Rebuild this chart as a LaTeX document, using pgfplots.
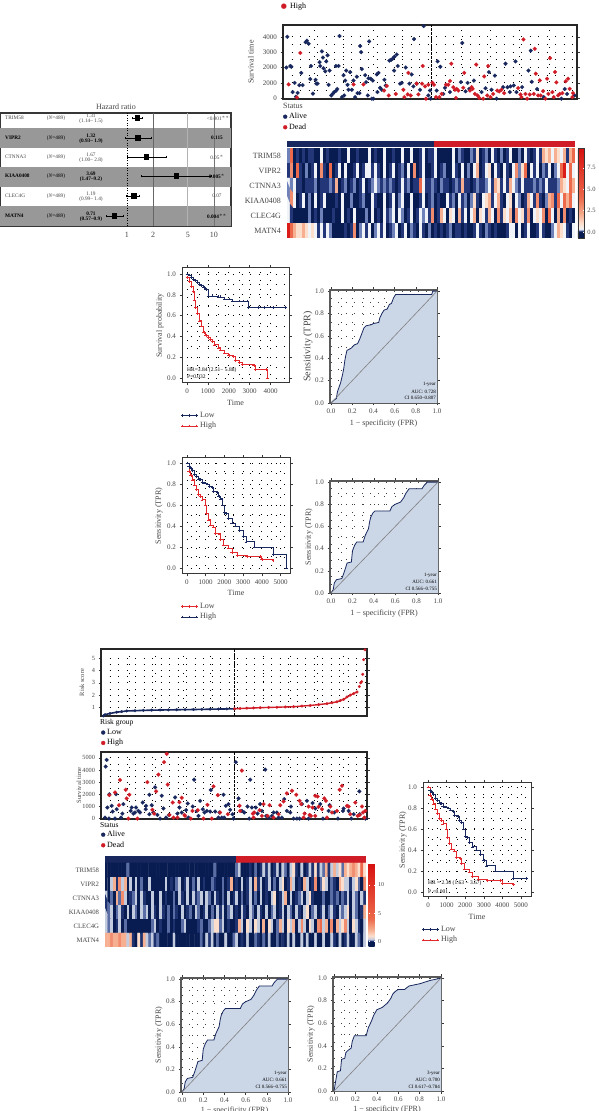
\documentclass[border=0pt]{standalone}
\usepackage{fontspec}
\setmainfont{Liberation Serif}
\newfontfamily\djv{DejaVu Sans}
\usepackage{pgfplots}
\pgfplotsset{compat=1.18}
\definecolor{navy}{RGB}{24,40,94}
\definecolor{hred}{RGB}{208,28,38}
\definecolor{kmred}{RGB}{226,40,44}
\definecolor{frame}{RGB}{55,55,55}
\definecolor{txt}{RGB}{70,70,70}
\definecolor{rocfill}{RGB}{203,214,230}
\definecolor{bandgrey}{RGB}{152,152,152}
\newcommand{\fs}[1]{\fontsize{#1}{#1}\selectfont}
\pgfplotsset{
 colormap={hmA}{rgb255(0pt)=(8,28,82) rgb255(7pt)=(8,28,82) rgb255(8pt)=(35,55,120) rgb255(9pt)=(110,130,185) rgb255(10pt)=(240,243,248) rgb255(17pt)=(252,222,205) rgb255(27pt)=(247,175,145) rgb255(47pt)=(236,105,75) rgb255(105pt)=(215,15,15)},
 colormap={hmB}{rgb255(0pt)=(8,28,82) rgb255(10pt)=(8,28,82) rgb255(11pt)=(30,50,112) rgb255(12pt)=(90,110,165) rgb255(13pt)=(195,203,222) rgb255(20pt)=(252,222,205) rgb255(30pt)=(247,175,145) rgb255(50pt)=(236,105,75) rgb255(149pt)=(215,15,15)},
 myBase/.style={scale only axis, anchor=south west, axis line style={draw=frame,line width=1pt},
   tick style={draw=frame,line width=.5pt}, tick align=outside, major tick length=2.5pt, minor tick length=0pt,
   tick label style={font=\fs{7},text=txt}, label style={font=\fs{8},text=txt},
   /pgf/number format/assume math mode=true, /pgf/number format/1000 sep={}, scaled ticks=false},
 myDots/.style={grid=both, major grid style={black,line width=.8pt,dash pattern=on .8pt off 7.7pt},
   minor grid style={black,line width=.8pt,dash pattern=on .8pt off 7.7pt}, minor tick num=1},
 myDec/.style={/pgf/number format/.cd,fixed,fixed zerofill,precision=1},
 myXl/.style={every axis x label/.style={at={(0.5,0)},anchor=center,yshift=-#1,font=\fs{8},text=txt}},
 myYl/.style={every axis y label/.style={at={(0,0.5)},anchor=center,xshift=-#1,rotate=90,font=\fs{8},text=txt}},
 myKmleg/.style={legend style={at={(0,0)},anchor=north west,yshift=-#1,xshift=-1pt,draw=none,fill=none,inner sep=0pt,row sep=-.5pt,font=\fs{8},text=txt},legend cell align=left,
   legend image code/.code={\draw[##1] plot coordinates {(0pt,0pt)(7pt,0pt)(14pt,0pt)};}},
 myDotleg/.style={legend style={at={(0,0)},anchor=north west,yshift=-#1,draw=none,fill=none,inner sep=0pt,row sep=-.5pt,font=\fs{8},text=black},legend cell align=left,
   legend image code/.code={\draw[##1,mark size=2pt] plot coordinates {(3pt,0pt)};}},
 myKm/.style={const plot,line width=.7pt,mark=+,mark size=1.4pt,mark options={solid,line width=.4pt}},
 myRoc/.style={myBase,myDots,major grid style={black!75,line width=.6pt,dash pattern=on .6pt off 7.4pt},minor grid style={black!75,line width=.6pt,dash pattern=on .6pt off 7.4pt},
   xmin=-.01,xmax=1,ymin=0,ymax=1.01,xtick={0,.2,.4,.6,.8,1},ytick={0,.2,.4,.6,.8,1},xticklabel style={myDec},yticklabel style={myDec},
   xlabel={1 − specificity (FPR)},ylabel={Sensitivity (TPR)},axis line style={draw=black!65,line width=1.2pt}},
 myScat/.style={myBase,ymajorgrids,yminorgrids,xmajorgrids,major grid style={black,line width=.8pt,dash pattern=on .8pt off 7.7pt},minor grid style={black,line width=.8pt,dash pattern=on .8pt off 7.7pt},minor y tick num=1,
   xticklabels={},x tick style={draw=none},axis line style={draw=black!85,line width=1.1pt}},
 myPts/.style={only marks,mark=*,mark size=1.95pt,mark options={draw=#1,fill=#1,line width=.2pt},color=#1},
 myHm/.style={myBase,xmin=-.5,xmax=95.5,ymin=-.5,ymax=5.5,y dir=reverse,xtick=\empty,ytick={0,1,2,3,4,5},
   yticklabels={TRIM58,VIPR2,CTNNA3,KIAA0408,CLEC4G,MATN4},y tick style={draw=none},axis line style={draw=none},enlargelimits=false},
 myCells/.style={matrix plot*,mesh/cols=96,point meta=explicit},
 myBar/.style={myBase,hide axis,xmin=0,xmax=2,ymin=0,ymax=1},
}
\newcommand{\T}[4][]{\node[inner sep=0pt,text=txt,#1] at ({#2},{1111-(#3)}) {#4};}
\newcommand{\frow}[6]{%
 \T[anchor=west,font=\fs{5.3},#6]{5}{#1}{#2}
 \T[font=\fs{5.3},#6]{56}{#1}{(\textit{N}=489)}
 \T[font=\fs{5.3},#6]{91}{#1-2.5}{#3}
 \T[font=\fs{5.3},#6]{91}{#1+3.5}{#4}
 \T[font=\fs{5.3},#6]{217}{#1}{#5}}
\begin{document}
\begin{tikzpicture}[x=1pt,y=1pt]
\path[use as bounding box,fill=white] (0,0) rectangle (598,1111);
% ---------- top legend, cut by the page
\T[anchor=west,font=\fs{8},text=black]{290}{-2}{Low}
\T[anchor=west,font=\fs{8},text=black]{290}{7}{High}
\T[text=hred,font=\djv\fs{7}]{284}{7}{●}
% ---------- forest
\begin{axis}[myBase,at={(0pt,885pt)},width=231pt,height=113pt,xmode=log,xmin=.0347,xmax=15.7,ymin=113,ymax=226,y dir=reverse,
  ytick=\empty,xtick={1,2,5,10},xticklabels={1,2,5,10},tick style={draw=none},tick label style={font=\fs{8},text=txt},axis line style={draw=frame,line width=1.1pt}]
\addplot[draw=none,fill=bandgrey] coordinates {(.0347,128)(15.7,128)(15.7,148)(.0347,148)} -- cycle;
\addplot[draw=none,fill=bandgrey] coordinates {(.0347,167)(15.7,167)(15.7,187)(.0347,187)} -- cycle;
\addplot[draw=none,fill=bandgrey] coordinates {(.0347,206)(15.7,206)(15.7,226)(.0347,226)} -- cycle;
\addplot[black!60,line width=.9pt] coordinates {(2,113)(2,226)};
\addplot[black!30,line width=1.4pt] coordinates {(5,113)(5,226)};
\addplot[black!55,line width=.9pt] coordinates {(10,113)(10,226)};
\addplot[black,line width=.8pt,dash pattern=on 1pt off 1.5pt] coordinates {(1,113)(1,226)};
\addplot[only marks,mark=square*,mark size=2.3pt,black,error bars/.cd,x dir=both,x explicit,error bar style={line width=.6pt,black},error mark options={black,rotate=90,mark size=1.3pt}]
 coordinates {(1.31,118) += (0.19,0) -= (0.17,0) (1.32,138) += (0.58,0) -= (0.37,0) (1.67,157) += (1.13,0) -= (0.67,0) (3.69,176) += (5.51,0) -= (2.22,0) (1.19,196) += (0.21,0) -= (0.2,0) (0.71,216) += (0.19,0) -= (0.14,0)};
\end{axis}
\T[font=\fs{8}]{116}{107}{Hazard ratio}
\frow{118}{TRIM58}{1.31}{(1.14– 1.5)}{\makebox[0pt]{\kern6pt\textless0.001$^{***}$}}{text=txt}
\frow{138}{\textbf{VIPR2}}{\textbf{1.32}}{\textbf{(0.93– 1.9)}}{\textbf{0.115}}{text=black}
\frow{157}{CTNNA3}{1.67}{(1.00– 2.8)}{0.05$^{*}$}{text=txt}
\frow{176}{\textbf{KIAA0408}}{\textbf{3.69}}{\textbf{(1.47–9.2)}}{\textbf{0.005}$^{*}$}{text=black}
\frow{196}{CLEC4G}{1.19}{(0.99– 1.4)}{0.07}{text=txt}
\frow{216}{\textbf{MATN4}}{\textbf{0.71}}{\textbf{(0.57–0.9)}}{\textbf{0.004}$^{**}$}{text=black}
% ---------- top survival scatter
\begin{axis}[myScat,at={(283pt,1012pt)},width=294pt,height=74pt,xmin=128,xmax=1012,ymin=-50,ymax=4770,
  xtick={222,310,400,486,575,665,752,840,930},ytick={0,1000,2000,3000,4000},yticklabels={0,2000,2000,3000,4000},
  myYl=32pt,ylabel={Survival time},myDotleg=12pt]
\addplot[myPts=navy] coordinates {(141,4000)(138,2000)(150,2100)(153,2050)(157,400)(163,1000)(167,100)(172,350)(177,850)(187,850)(183,1650)(196,3650)(200,3750)(205,3550)(210,1250)(212,2100)(218,300)(226,1200)(228,950)(232,950)(238,2350)(240,2100)(245,3050)(248,2650)(250,1950)(258,2400)(262,2800)(255,1750)(268,1800)(265,870)(278,300)(273,180)(282,400)(288,500)(291,600)(287,2100)(295,2100)(298,4050)(305,70)(312,180)(310,1500)(318,1800)(315,1150)(322,870)(330,1700)(325,550)(335,550)(340,1150)(345,70)(350,1400)(352,330)(358,330)(360,3400)(363,3000)(365,1900)(375,1500)(378,1050)(385,1300)(387,3700)(392,1270)(398,1150)(383,180)(395,-30)(400,-30)(410,1550)(415,1650)(412,400)(420,680)(425,550)(433,1200)(437,830)(448,2450)(453,2500)(458,2580)(463,2700)(470,2850)(473,2100)(462,1800)(480,950)(485,1000)(497,2000)(515,1550)(522,3850)(508,950)(520,770)(530,950)(540,550)(551,4700)(570,500)(565,180)(572,-30)(593,2400)(601,2050)(590,500)(610,280)(615,680)(630,400)(663,1050)(667,3600)(683,1000)(677,450)(702,1150)(688,610)(725,400)(737,650)(747,1700)(755,550)(765,1470)(770,-30)(797,2250)(790,720)(803,720)(812,770)(822,830)(827,2400)(810,400)(830,400)(847,720)(866,1800)(873,3100)(876,1070)(892,600)(912,70)(965,-30)(975,600)(982,280)(1005,180)};
\addlegendentry{Alive}
\addplot[myPts=hred] coordinates {(145,900)(180,2950)(170,50)(340,900)(370,900)(432,500)(440,800)(446,180)(467,280)(490,550)(493,70)(503,250)(505,1650)(512,180)(530,950)(535,250)(546,950)(548,2100)(555,770)(558,-30)(565,880)(577,1010)(582,880)(588,70)(598,70)(605,280)(618,880)(625,880)(630,1120)(634,2250)(640,720)(645,550)(650,610)(655,500)(648,20)(670,680)(673,1650)(690,500)(695,720)(698,610)(705,280)(709,2190)(713,180)(718,20)(730,-30)(733,1420)(742,180)(745,2100)(752,70)(760,280)(772,500)(778,440)(785,550)(793,330)(835,660)(842,240)(845,70)(851,3830)(857,280)(862,-30)(870,240)(882,280)(885,3220)(888,1600)(895,180)(900,1160)(903,180)(910,460)(917,-30)(922,1270)(926,280)(931,2610)(938,400)(942,70)(946,1710)(950,1030)(955,180)(960,280)(968,330)(978,1100)(985,1270)(990,610)(998,70)(1000,330)};
\addlegendentry{Dead}
\addplot[black,line width=.8pt,dash pattern=on 2.5pt off 1.5pt,forget plot] coordinates {(575,-50)(575,4770)};
\end{axis}
\T[anchor=west,font=\fs{8}]{283}{106}{Status}
% ---------- top heatmap
\begin{axis}[myBar,at={(287pt,964pt)},width=288pt,height=6pt]
\addplot[draw=none,fill=navy] coordinates {(0,0)(1.02,0)(1.02,1)(0,1)} -- cycle;
\addplot[draw=none,fill=hred] coordinates {(1.02,0)(2,0)(2,1)(1.02,1)} -- cycle;
\end{axis}
\begin{axis}[myHm,at={(287pt,873pt)},width=288pt,height=90pt,tick label style={font=\fs{8},text=txt},colormap name=hmA,point meta min=-.7,point meta max=9.8,colorbar,
 colorbar style={at={(1.01,0)},anchor=south west,width=6pt,ytick={0,2.5,5,7.5},tick label style={font=\fs{6.5},text=txt,/pgf/number format/assume math mode=true,myDec},tick style={draw=white,line width=.3pt},major tick length=1pt,axis line style={draw=frame,line width=.6pt}}]
\addplot[myCells] table[header=false,row sep=crcr,x expr={mod(\coordindex,96)},y expr={floor(\coordindex/96)},meta index=0] {
.2\\4\\0\\.1\\0\\.1\\0\\.1\\.1\\0\\0\\.3\\
0\\.1\\0\\0\\0\\.1\\0\\0\\.3\\0\\0\\.1\\
0\\0\\0\\.3\\0\\.1\\0\\0\\.3\\0\\0\\.1\\
0\\0\\.3\\0\\0\\.3\\0\\0\\.1\\.3\\0\\.1\\
.1\\.3\\0\\0\\0\\0\\0\\.3\\0\\.2\\.1\\0\\
0\\.2\\.1\\1\\0\\.1\\.2\\0\\.3\\.1\\0\\.2\\
0\\.1\\.3\\0\\0\\.2\\0\\.3\\.1\\0\\.1\\.3\\
.1\\2\\1\\2\\.3\\2\\1\\.3\\2\\.1\\2\\4\\
.1\\3\\0\\4\\.1\\0\\.2\\0\\.1\\.3\\0\\3\\
.1\\0\\4\\0\\.1\\.3\\0\\.3\\0\\0\\.1\\.3\\
0\\.1\\.3\\.3\\.1\\.3\\.1\\0\\.3\\0\\.1\\.3\\
0\\.1\\.2\\0\\.3\\0\\3\\0\\.1\\.3\\0\\0\\
.1\\.3\\0\\.1\\.2\\0\\0\\.3\\.1\\0\\.3\\0\\
.2\\0\\.3\\2\\0\\.1\\.3\\1\\0\\.3\\.1\\0\\
.3\\.1\\0\\.3\\3\\.2\\1\\4\\0\\.3\\.1\\.3\\
0\\.2\\.1\\.3\\0\\.2\\.3\\4\\9\\.3\\4\\.3\\
.3\\.2\\.3\\.1\\.1\\0\\.1\\.1\\.1\\.2\\0\\.1\\
.1\\.1\\.2\\.1\\2\\0\\.1\\.2\\0\\.1\\.2\\0\\
.1\\.3\\0\\.1\\.2\\.3\\.2\\.1\\.2\\.1\\.2\\.1\\
0\\.1\\.3\\.1\\.2\\0\\.1\\.1\\4\\.3\\.1\\.1\\
.2\\.1\\0\\.2\\.1\\.1\\0\\.1\\.2\\.1\\2\\.1\\
.1\\0\\.1\\.2\\.1\\.1\\.2\\.3\\.1\\2\\1\\.1\\
.3\\.1\\2\\.3\\.2\\.1\\.3\\.1\\.1\\.1\\.2\\.1\\
.2\\.1\\.3\\.1\\.1\\.1\\.2\\2\\1\\.3\\4\\2\\
.2\\3\\.3\\0\\.1\\.3\\0\\.2\\0\\.3\\0\\.1\\
.3\\0\\0\\0\\.1\\0\\.3\\0\\0\\.2\\0\\0\\
.1\\.2\\0\\0\\.3\\.1\\0\\0\\.3\\0\\.1\\.3\\
0\\.2\\.3\\0\\0\\.3\\0\\0\\.1\\.3\\0\\.1\\
.2\\0\\.1\\0\\0\\.3\\.1\\.2\\0\\.3\\.1\\.2\\
0\\.2\\1\\.1\\0\\.3\\1\\2\\.1\\.3\\2\\.1\\
0\\.3\\1\\0\\.3\\.2\\0\\.1\\2\\.3\\.1\\3\\
.1\\0\\.2\\2\\3\\.1\\4\\.3\\4\\2\\4\\.3\\
.3\\.1\\0\\0\\0\\0\\0\\.2\\0\\.1\\0\\.2\\
0\\0\\0\\.1\\0\\0\\.3\\0\\.1\\0\\.3\\0\\
0\\0\\.2\\0\\.3\\0\\.1\\0\\.3\\.1\\.2\\.3\\
0\\.3\\.2\\0\\.1\\.3\\0\\.1\\.3\\.2\\.3\\.1\\
3\\0\\.1\\2\\.3\\0\\1\\.3\\0\\2\\.1\\.3\\
0\\.3\\2\\0\\1\\.3\\.1\\2\\.3\\0\\3\\.1\\
1\\.3\\2\\0\\3\\.3\\1\\.1\\3\\0\\.3\\1\\
.3\\3\\0\\4\\.3\\0\\2\\0\\3\\0\\.1\\0\\
9\\4\\2\\1\\1\\2\\1\\.3\\1\\.3\\.1\\.3\\
.1\\.3\\.2\\0\\0\\0\\0\\.1\\0\\.1\\3\\0\\
.2\\.3\\.1\\.3\\0\\.2\\.3\\.1\\.3\\0\\.1\\.2\\
.3\\0\\.1\\.3\\0\\.2\\.1\\0\\.3\\.1\\0\\.2\\
0\\.1\\0\\.1\\0\\.1\\.2\\0\\.1\\.1\\0\\.1\\
0\\0\\.1\\.3\\.1\\0\\.2\\.1\\0\\.1\\0\\0\\
0\\.1\\.3\\.3\\0\\.3\\0\\.1\\.3\\0\\0\\.1\\
.3\\.1\\0\\0\\.2\\.3\\2\\1\\.3\\.1\\0\\.3\\
};
\end{axis}
% ---------- KM 1
\begin{axis}[myBase,myDots,at={(182pt,728pt)},width=107pt,height=115pt,xmin=-240,xmax=4880,ymin=-.048,ymax=1.058,xtick={0,1000,2000,3000,4000},ytick={0,.2,.4,.6,.8,1},yticklabel style={myDec},
 xlabel={Time},ylabel={Survival probability},myXl=20pt,myYl=22pt,myKmleg=27pt]
\addplot[myKm,navy] coordinates {(0,1)(100,.99)(200,.97)(300,.95)(400,.94)(500,.92)(600,.90)(700,.89)(800,.87)(900,.85)(1000,.79)(1200,.79)(1500,.78)(1600,.78)(1800,.76)(2000,.76)(2150,.74)(2500,.74)(2700,.74)(2900,.74)(2950,.68)(3400,.68)(3700,.68)(4100,.68)(4700,.68)};
\addlegendentry{Low}
\addplot[myKm,kmred] coordinates {(0,.97)(100,.93)(200,.88)(300,.83)(350,.75)(400,.68)(500,.62)(600,.55)(700,.50)(800,.44)(900,.41)(1000,.39)(1100,.37)(1200,.35)(1300,.32)(1500,.29)(1600,.27)(1800,.24)(2000,.22)(2200,.21)(2300,.17)(2500,.15)(2650,.13)(3200,.12)(3250,.08)(3800,.08)(3850,0)};
\addlegendentry{High}
\end{axis}
\T[anchor=west,font=\fs{5.5},text=black]{187}{370}{HR=3.84 (2.51− 5.88)}
\T[anchor=west,font=\fs{5.5},text=black]{187}{377}{P=0.032}
% ---------- ROC 1
\begin{axis}[myRoc,at={(330pt,708pt)},width=107pt,height=113pt,myXl=21pt,myYl=22pt,ylabel style={font=\fs{10}}]
\addplot[draw=none,fill=rocfill] coordinates {(0,0)(.02,.02)(.05,.04)(.06,.1)(.09,.18)(.11,.26)(.12,.31)(.13,.38)(.14,.43)(.15,.47)(.19,.49)(.22,.52)(.25,.53)(.27,.57)(.29,.62)(.31,.67)(.33,.69)(.38,.70)(.4,.71)(.45,.72)(.46,.76)(.48,.80)(.5,.83)(.53,.84)(.55,.88)(.57,.89)(.59,.94)(.61,.97)(.95,.97)(.96,1)(1,1)(1,0)} -- cycle;
\addplot[navy,line width=.8pt] coordinates {(0,0)(.02,.02)(.05,.04)(.06,.1)(.09,.18)(.11,.26)(.12,.31)(.13,.38)(.14,.43)(.15,.47)(.19,.49)(.22,.52)(.25,.53)(.27,.57)(.29,.62)(.31,.67)(.33,.69)(.38,.70)(.4,.71)(.45,.72)(.46,.76)(.48,.80)(.5,.83)(.53,.84)(.55,.88)(.57,.89)(.59,.94)(.61,.97)(.95,.97)(.96,1)(1,1)};
\addplot[gray,line width=.6pt] coordinates {(0,0)(1,1)};
\end{axis}
\T[anchor=east,font=\fs{5},text=black]{436}{384}{1-year}
\T[anchor=east,font=\fs{5},text=black]{436}{392}{AUC: 0.728}
\T[anchor=east,font=\fs{5},text=black]{436}{398}{CI 0.650–0.807}
% ---------- KM 2
\begin{axis}[myBase,myDots,at={(182pt,537pt)},width=108pt,height=116pt,xmin=-267,xmax=5508,ymin=-.057,ymax=1.048,xtick={0,1000,2000,3000,4000,5000},ytick={0,.2,.4,.6,.8,1},yticklabel style={myDec},
 xlabel={Time},ylabel={Sensitivity (TPR)},myXl=19pt,myYl=23pt,myKmleg=27pt]
\addplot[myKm,kmred] coordinates {(0,1.0)(100,.92)(200,.88)(300,.84)(400,.79)(500,.75)(600,.70)(700,.68)(800,.65)(1000,.60)(1050,.52)(1150,.46)(1250,.41)(1400,.39)(1500,.33)(1750,.32)(1800,.27)(1950,.22)(2200,.19)(2400,.15)(2700,.12)(3200,.11)(3900,.11)(4000,.08)(4600,.07)};
\addlegendentry{Low}
\addplot[myKm,navy] coordinates {(0,1.0)(100,.97)(200,.95)(300,.93)(400,.89)(500,.87)(600,.85)(700,.84)(800,.82)(900,.81)(1000,.81)(1100,.80)(1200,.78)(1350,.77)(1400,.73)(1600,.72)(1700,.68)(1800,.66)(1900,.60)(2000,.53)(2100,.52)(2200,.47)(2400,.43)(2600,.40)(2800,.36)(3000,.30)(3150,.25)(3600,.20)(4600,.13)(5300,0)};
\addlegendentry{High}
\end{axis}
% ---------- ROC 2
\begin{axis}[myRoc,at={(330pt,518pt)},width=108pt,height=112pt,myXl=21pt,myYl=21pt]
\addplot[draw=none,fill=rocfill] coordinates {(0,0)(.02,.03)(.03,.09)(.05,.12)(.1,.13)(.12,.18)(.15,.27)(.19,.28)(.2,.38)(.22,.43)(.24,.46)(.3,.46)(.32,.52)(.35,.58)(.36,.64)(.37,.68)(.39,.72)(.41,.74)(.55,.74)(.57,.78)(.6,.8)(.65,.82)(.68,.86)(.7,.9)(.73,.94)(.85,.94)(.87,.97)(.9,1)(1,1)(1,0)} -- cycle;
\addplot[navy,line width=.8pt] coordinates {(0,0)(.02,.03)(.03,.09)(.05,.12)(.1,.13)(.12,.18)(.15,.27)(.19,.28)(.2,.38)(.22,.43)(.24,.46)(.3,.46)(.32,.52)(.35,.58)(.36,.64)(.37,.68)(.39,.72)(.41,.74)(.55,.74)(.57,.78)(.6,.8)(.65,.82)(.68,.86)(.7,.9)(.73,.94)(.85,.94)(.87,.97)(.9,1)(1,1)};
\addplot[gray,line width=.6pt] coordinates {(0,0)(1,1)};
\end{axis}
\T[anchor=east,font=\fs{5},text=black]{437}{575}{1-year}
\T[anchor=east,font=\fs{5},text=black]{437}{582}{AUC: 0.661}
\T[anchor=east,font=\fs{5},text=black]{437}{589}{CI 0.566–0.755}
% ---------- risk score
\begin{axis}[myScat,at={(101pt,395pt)},width=266pt,height=67pt,xmin=123,xmax=920,ymin=.29,ymax=5.77,
  xtick={207,285,370,450,523,610,690,770,850},ytick={1,2,3,4,5},tick label style={font=\fs{6.3},text=txt},myYl=19pt,ylabel style={font=\fs{6.5}},ylabel={Risk score},myDotleg=11pt]
\addplot[myPts=navy,mark size=1.4pt] coordinates {(130,.3)(135,.4)(150,.5)(170,.6)(185,.65)(200,.7)(225,.72)(250,.75)(275,.77)(300,.78)(325,.79)(350,.80)(375,.81)(400,.82)(425,.83)(450,.85)(475,.86)(500,.87)(523,.88)};
\addlegendentry{Low}
\addplot[navy,line width=1.6pt,forget plot] coordinates {(130,.3)(135,.4)(150,.5)(170,.6)(200,.7)(250,.75)(300,.78)(400,.82)(523,.88)};
\addplot[myPts=hred,mark size=1.4pt] coordinates {(523,.88)(540,.91)(560,.93)(580,.95)(600,.97)(625,.99)(650,1.0)(675,1.03)(700,1.05)(725,1.1)(750,1.15)(775,1.22)(800,1.3)(815,1.37)(830,1.45)(840,1.55)(850,1.65)(860,1.85)(870,2.0)(880,2.12)(890,2.25)(897,2.7)(901,3)(904,3.1)(907,3.7)(910,4.9)(914,5.7)};
\addlegendentry{High}
\addplot[hred,line width=1.4pt,forget plot] coordinates {(523,.88)(600,.97)(700,1.05)(750,1.15)(800,1.3)(830,1.45)(850,1.65)(870,2.0)(890,2.25)};
\addplot[black,line width=.8pt,dash pattern=on 2.5pt off 1.5pt,forget plot] coordinates {(523,.29)(523,5.77)};
\end{axis}
\T[anchor=west,font=\fs{7.5},text=black]{100}{723}{Risk group}
% ---------- bottom survival scatter
\begin{axis}[myScat,at={(101pt,292pt)},width=266pt,height=67pt,xmin=123,xmax=920,ymin=-35,ymax=5480,
  xtick={207,285,370,450,523,610,690,770,850},ytick={0,1000,2000,3000,4000,5000},tick label style={font=\fs{6.3},text=txt},myYl=22pt,ylabel style={font=\fs{6.5}},ylabel={Survival time},myDotleg=10pt]
\addplot[myPts=navy] coordinates {(137,4280)(140,4830)(148,2000)(168,2000)(142,910)(155,1050)(158,580)(170,770)(190,1190)(187,410)(183,80)(135,80)(147,0)(165,0)(215,910)(212,630)(220,410)(225,500)(228,910)(235,630)(240,500)(248,1320)(258,1050)(268,1960)(275,1100)(257,770)(268,360)(280,500)(285,2570)(292,300)(300,0)(310,830)(305,1880)(318,80)(327,300)(345,1740)(352,410)(358,910)(365,500)(378,690)(383,1240)(398,990)(402,3200)(385,80)(410,630)(415,220)(420,1460)(428,770)(433,500)(440,630)(450,580)(452,2350)(465,580)(475,80)(478,500)(485,80)(490,1960)(492,80)(497,1050)(505,1190)(510,720)(517,360)(520,0)(527,4640)(535,1660)(545,630)(552,500)(562,990)(567,0)(570,3200)(575,910)(587,910)(592,410)(600,1190)(605,630)(615,4030)(618,220)(625,80)(635,220)(640,500)(650,500)(655,80)(665,80)(672,1600)(680,630)(690,500)(692,990)(700,0)(710,0)(718,0)(725,1190)(740,1460)(745,0)(757,1280)(765,830)(780,1190)(788,0)(805,630)(808,1100)(822,500)(833,0)(848,630)(850,830)(865,630)(873,0)(880,360)(897,2240)(898,360)(915,0)};
\addlegendentry{Alive}
\addplot[myPts=hred] coordinates {(148,1930)(180,3170)(165,2150)(177,1100)(197,2370)(200,1660)(208,1960)(205,0)(232,0)(262,3000)(277,720)(282,410)(288,2240)(295,3620)(312,4640)(320,5330)(323,2800)(328,300)(338,1320)(340,80)(352,80)(358,1350)(365,1710)(373,300)(375,220)(392,0)(397,630)(413,690)(430,0)(442,1130)(455,0)(460,2650)(473,1930)(480,500)(503,360)(538,1050)(545,3950)(540,630)(578,410)(582,500)(580,80)(598,690)(605,220)(610,1190)(622,220)(628,1100)(640,80)(655,360)(660,1100)(670,1410)(680,2070)(695,2290)(708,1960)(718,1460)(723,1190)(730,80)(733,410)(745,990)(748,300)(752,220)(757,910)(765,220)(765,1880)(772,1820)(775,970)(785,770)(792,1660)(797,1460)(800,80)(810,990)(815,500)(830,630)(838,2370)(845,2700)(860,1050)(865,990)(870,360)(885,1320)(892,220)(898,300)(905,990)(908,500)(915,630)(912,80)};
\addlegendentry{Dead}
\addplot[black,line width=.8pt,dash pattern=on 2.5pt off 1.5pt,forget plot] coordinates {(523,-35)(523,5480)};
\end{axis}
\T[anchor=west,font=\fs{7.5},text=black]{100}{825}{Status}
% ---------- bottom heatmap
\begin{axis}[myBar,at={(105pt,248pt)},width=261pt,height=7pt]
\addplot[draw=none,fill=navy] coordinates {(0,0)(1,0)(1,1)(0,1)} -- cycle;
\addplot[draw=none,fill=hred] coordinates {(1,0)(2,0)(2,1)(1,1)} -- cycle;
\end{axis}
\begin{axis}[myHm,at={(105pt,164pt)},width=261pt,height=84pt,tick label style={font=\fs{6.7},text=txt},colormap name=hmB,point meta min=-1,point meta max=13.9,colorbar,
 colorbar style={at={(1.01,0)},anchor=south west,width=6pt,ytick={0,5,10},tick label style={font=\fs{6},text=txt,/pgf/number format/assume math mode=true},tick style={draw=white,line width=.3pt},major tick length=1pt,axis line style={draw=none}}]
\addplot[myCells] table[header=false,row sep=crcr,x expr={mod(\coordindex,96)},y expr={floor(\coordindex/96)},meta index=0] {
0\\0\\0\\0\\0\\0\\0\\0\\.2\\0\\0\\0\\
0\\0\\0\\0\\0\\0\\0\\0\\0\\0\\0\\0\\
0\\0\\0\\0\\0\\0\\0\\0\\0\\0\\0\\0\\
0\\0\\0\\0\\.2\\0\\0\\0\\0\\0\\0\\0\\
.2\\.3\\0\\0\\0\\.1\\0\\.2\\0\\.1\\.3\\.1\\
.3\\0\\.1\\.3\\0\\.3\\.2\\0\\.3\\1\\.1\\0\\
.3\\0\\.1\\.3\\.1\\1\\.1\\.3\\.2\\2\\.1\\.3\\
2\\.3\\1\\.2\\2\\1\\2\\3\\2\\1\\4\\1\\
0\\0\\.3\\2\\.1\\3\\.3\\2\\0\\.3\\0\\.3\\
0\\.2\\0\\0\\.3\\0\\0\\0\\0\\0\\.3\\0\\
.1\\0\\.2\\.3\\0\\.1\\.3\\0\\.2\\0\\.3\\0\\
.1\\0\\0\\.2\\.1\\0\\0\\.2\\0\\.1\\2\\0\\
.1\\0\\.3\\0\\.1\\.3\\0\\2\\.1\\.3\\0\\.1\\
.3\\0\\.2\\0\\.3\\1\\0\\.1\\2\\.3\\0\\.1\\
0\\2\\.3\\0\\.1\\3\\0\\.2\\1\\.3\\0\\.2\\
.1\\0\\2\\1\\.3\\.3\\.1\\.3\\1\\.2\\0\\3\\
.3\\0\\.2\\0\\2\\.2\\3\\.3\\0\\.1\\.2\\.3\\
0\\.3\\.1\\0\\0\\.3\\0\\0\\.3\\0\\.1\\0\\
0\\.2\\0\\.3\\.1\\0\\.3\\0\\.3\\.1\\.2\\.3\\
0\\.3\\.2\\0\\.3\\.1\\0\\.2\\0\\.3\\0\\.1\\
.3\\0\\.2\\0\\.1\\.3\\0\\.2\\0\\.3\\0\\.1\\
0\\.3\\1\\0\\.1\\.3\\2\\0\\.3\\0\\.1\\.2\\
.3\\0\\.3\\1\\.1\\0\\0\\0\\.2\\0\\0\\.2\\
.1\\.2\\0\\.2\\.1\\.3\\0\\.3\\.2\\0\\.3\\.1\\
.1\\.2\\.3\\0\\.2\\.3\\.1\\0\\.3\\0\\.3\\.2\\
0\\.3\\.2\\.3\\0\\.3\\.1\\0\\.3\\.1\\0\\.2\\
0\\.2\\.1\\0\\.3\\0\\.1\\.2\\0\\.3\\.2\\0\\
.1\\.3\\0\\.2\\0\\.3\\.1\\.3\\0\\.2\\.3\\0\\
.1\\0\\.3\\.1\\0\\.3\\.2\\0\\.3\\.1\\0\\.3\\
0\\.2\\.3\\0\\.1\\.3\\0\\.3\\.2\\0\\.3\\.1\\
0\\.3\\1\\0\\.2\\.3\\0\\.1\\.3\\0\\.2\\.3\\
.1\\0\\.3\\.2\\.3\\1\\0\\.3\\.2\\0\\.1\\2\\
.3\\.2\\.3\\0\\.1\\.3\\0\\.2\\0\\0\\0\\0\\
0\\0\\0\\0\\0\\.2\\.3\\0\\.1\\0\\0\\.2\\
0\\.1\\0\\0\\.2\\.3\\0\\0\\0\\0\\.1\\.2\\
0\\0\\.2\\.3\\1\\1\\.2\\.3\\0\\.1\\0\\0\\
.1\\2\\.3\\0\\1\\.3\\0\\1\\.3\\0\\2\\0\\
1\\.3\\0\\.2\\2\\.3\\0\\1\\.3\\2\\0\\.3\\
3\\.3\\0\\1\\.3\\0\\3\\4\\.3\\2\\0\\3\\
0\\2\\.3\\1\\3\\.3\\0\\1\\.3\\.1\\0\\.3\\
2\\2\\3\\2\\2\\3\\2\\2\\.3\\2\\.1\\0\\
1\\.1\\2\\.3\\.2\\.3\\.1\\.2\\0\\0\\0\\0\\
0\\.3\\0\\0\\0\\0\\0\\0\\0\\0\\0\\.2\\
0\\.3\\.1\\.3\\0\\.2\\0\\0\\.3\\0\\0\\.2\\
.3\\0\\.1\\0\\.3\\0\\0\\.2\\.1\\0\\.2\\0\\
.3\\0\\0\\.2\\0\\.1\\0\\.3\\0\\.3\\0\\0\\
.3\\0\\.3\\0\\0\\.3\\0\\0\\.3\\0\\0\\.3\\
.1\\0\\.3\\0\\.1\\.3\\0\\0\\.3\\.2\\0\\.3\\
};
\end{axis}
% ---------- KM 3
\begin{axis}[myBase,myDots,at={(423pt,214pt)},width=108pt,height=114pt,xmin=-270,xmax=5540,ymin=-.048,ymax=1.038,xtick={0,1000,2000,3000,4000,5000},ytick={0,.2,.4,.6,.8,1},yticklabel style={myDec},
 xlabel={Time},ylabel={Sensitivity (TPR)},myXl=20pt,myYl=20pt,myKmleg=27pt]
\addplot[myKm,navy] coordinates {(0,1.0)(100,.97)(200,.95)(300,.93)(400,.89)(500,.87)(600,.85)(700,.84)(800,.82)(900,.81)(1000,.81)(1100,.80)(1200,.78)(1350,.77)(1400,.73)(1600,.72)(1700,.68)(1800,.66)(1900,.60)(2000,.53)(2100,.52)(2200,.47)(2400,.43)(2600,.40)(2800,.36)(3000,.30)(3150,.25)(3600,.20)(4100,.20)(4600,.13)(5300,.13)};
\addlegendentry{Low}
\addplot[myKm,kmred] coordinates {(0,1.0)(100,.92)(200,.88)(300,.84)(400,.79)(500,.75)(600,.70)(700,.68)(800,.65)(1000,.60)(1050,.52)(1150,.46)(1250,.41)(1400,.39)(1500,.33)(1750,.32)(1800,.27)(1950,.22)(2200,.19)(2400,.15)(2700,.12)(3200,.11)(3900,.11)(4000,.08)(4600,.07)};
\addlegendentry{High}
\end{axis}
\T[anchor=west,font=\fs{5.5},text=black]{428}{883}{HR = 2.30 (1.63 − 3.67)}
\T[anchor=west,font=\fs{5.5},text=black]{428}{892}{P <0.001}
% ---------- ROC 3
\begin{axis}[myRoc,at={(181pt,19pt)},width=107pt,height=114pt,myXl=19pt,myYl=22pt]
\addplot[draw=none,fill=rocfill] coordinates {(0,0)(.02,.03)(.03,.09)(.05,.12)(.1,.13)(.12,.18)(.15,.27)(.19,.28)(.2,.38)(.22,.43)(.24,.46)(.3,.46)(.32,.52)(.35,.58)(.36,.64)(.37,.68)(.39,.72)(.41,.74)(.55,.74)(.57,.78)(.6,.8)(.65,.82)(.68,.86)(.7,.9)(.73,.94)(.85,.94)(.87,.97)(.9,1)(1,1)(1,0)} -- cycle;
\addplot[navy,line width=.8pt] coordinates {(0,0)(.02,.03)(.03,.09)(.05,.12)(.1,.13)(.12,.18)(.15,.27)(.19,.28)(.2,.38)(.22,.43)(.24,.46)(.3,.46)(.32,.52)(.35,.58)(.36,.64)(.37,.68)(.39,.72)(.41,.74)(.55,.74)(.57,.78)(.6,.8)(.65,.82)(.68,.86)(.7,.9)(.73,.94)(.85,.94)(.87,.97)(.9,1)(1,1)};
\addplot[gray,line width=.6pt] coordinates {(0,0)(1,1)};
\end{axis}
\T[anchor=east,font=\fs{5},text=black]{287}{1073}{1-year}
\T[anchor=east,font=\fs{5},text=black]{287}{1080}{AUC: 0.661}
\T[anchor=east,font=\fs{5},text=black]{287}{1087}{CI 0.566–0.755}
% ---------- ROC 4
\begin{axis}[myRoc,at={(333pt,20pt)},width=108pt,height=114pt,myXl=19pt,myYl=22pt]
\addplot[draw=none,fill=rocfill] coordinates {(0,0)(.01,.06)(.03,.17)(.06,.18)(.07,.28)(.1,.29)(.11,.34)(.13,.36)(.16,.38)(.17,.44)(.19,.49)(.3,.49)(.32,.56)(.35,.62)(.37,.67)(.4,.72)(.45,.74)(.5,.78)(.53,.82)(.55,.86)(.57,.88)(.6,.90)(.66,.90)(.7,.93)(.8,.95)(.9,.98)(1,1)(1,0)} -- cycle;
\addplot[navy,line width=.8pt] coordinates {(0,0)(.01,.06)(.03,.17)(.06,.18)(.07,.28)(.1,.29)(.11,.34)(.13,.36)(.16,.38)(.17,.44)(.19,.49)(.3,.49)(.32,.56)(.35,.62)(.37,.67)(.4,.72)(.45,.74)(.5,.78)(.53,.82)(.55,.86)(.57,.88)(.6,.90)(.66,.90)(.7,.93)(.8,.95)(.9,.98)(1,1)};
\addplot[gray,line width=.6pt] coordinates {(0,0)(1,1)};
\end{axis}
\T[anchor=east,font=\fs{5},text=black]{440}{1073}{3-year}
\T[anchor=east,font=\fs{5},text=black]{440}{1080}{AUC: 0.700}
\T[anchor=east,font=\fs{5},text=black]{440}{1087}{CI 0.617–0.784}
\end{tikzpicture}
\end{document}
